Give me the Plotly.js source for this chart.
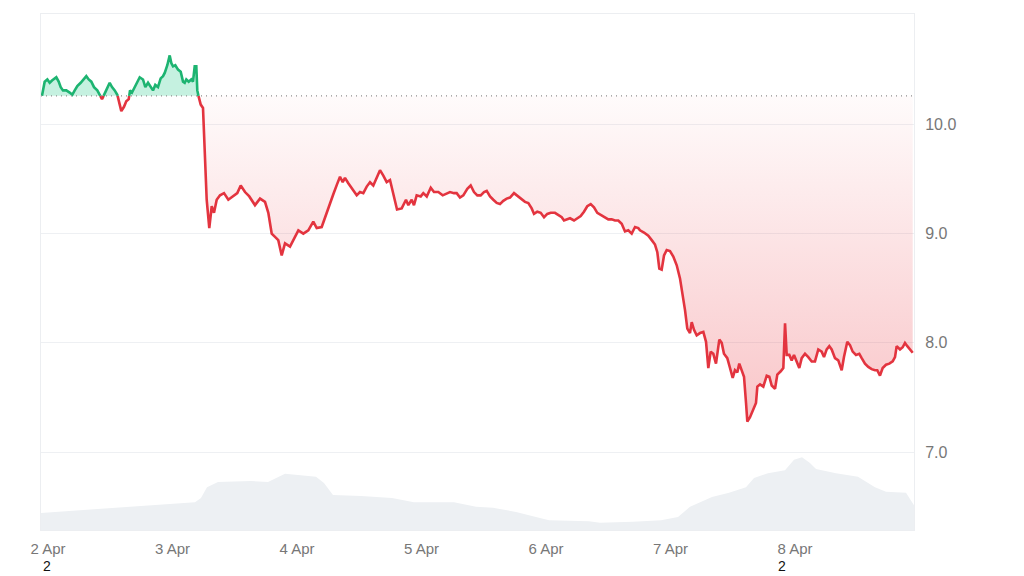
<!DOCTYPE html>
<html><head><meta charset="utf-8">
<script src="https://cdn.plot.ly/plotly-3.0.1.min.js"></script>
<style>html,body{margin:0;padding:0;background:#fff}#chart{width:1024px;height:576px}</style>
</head><body><div id="chart"></div>
<script>
// hours since 2 Apr 00:00 (UTC) for each price reading
const hours = [-1.16,-0.64,-0.13,0.33,0.77,1.60,2.06,2.45,2.89,3.53,4.18,4.68,5.15,5.65,6.30,6.94,7.38,7.85,8.35,8.87,9.50,9.97,10.41,10.93,11.43,11.89,12.34,12.86,13.36,13.82,14.13,14.65,15.09,15.56,15.81,16.19,16.71,17.21,17.68,18.31,18.76,19.28,19.80,20.24,20.68,21.20,21.72,22.17,22.50,23.00,23.46,23.77,24.10,24.54,25.06,25.58,26.03,26.35,26.66,27.12,27.62,27.95,28.28,28.59,28.78,29.05,29.44,29.88,30.27,30.59,31.09,31.56,32.00,32.52,33.16,33.93,34.76,35.72,36.49,37.15,37.98,38.80,39.90,40.87,41.83,42.47,43.12,43.76,44.39,45.05,45.69,46.65,47.29,48.26,49.22,50.18,51.14,51.80,52.76,53.40,54.36,55.00,55.71,56.29,56.81,57.25,57.89,58.85,59.51,60.14,60.78,61.44,62.07,62.71,63.36,64.00,64.64,65.29,65.93,66.56,67.28,68.18,69.01,69.46,70.11,70.55,71.07,71.85,72.35,73.01,73.78,74.41,75.24,76.09,76.86,77.49,78.26,78.78,79.42,80.06,80.83,81.48,82.12,82.76,83.41,84.05,84.57,85.21,85.84,86.50,87.13,87.77,88.42,89.06,89.83,90.66,91.32,91.95,92.59,93.24,93.69,94.32,94.98,95.62,96.25,96.91,97.73,98.37,99.03,99.47,99.99,100.63,101.40,102.03,102.69,103.32,103.96,104.62,105.25,105.89,106.54,107.37,108.01,108.66,109.30,109.94,110.59,111.23,111.86,112.52,113.16,113.79,114.12,114.89,115.72,116.38,117.01,117.46,117.84,118.30,118.75,119.27,119.90,120.54,121.20,121.83,122.35,122.80,123.24,123.76,124.09,124.53,125.05,125.69,126.33,126.85,127.29,127.75,128.25,128.77,129.41,129.87,130.31,130.95,131.47,131.99,132.43,132.88,133.26,133.73,134.17,134.56,134.81,135.33,135.97,136.48,136.74,137.26,137.89,138.55,139.05,139.51,140.15,140.59,141.25,141.75,142.08,142.40,142.90,143.36,143.81,144.33,144.83,145.29,145.93,146.56,147.22,147.85,148.49,149.14,149.59,150.11,150.61,151.07,151.71,152.34,153.00,153.44,154.08,154.60,155.12,155.76,156.39,156.86,157.49,158.13,158.78,159.42,159.86,160.38,160.90,161.54,162.18,162.83,163.28,163.60,164.24,164.76,165.20,165.65,166.17,166.69];
const prices = [10.26,10.39,10.41,10.38,10.40,10.43,10.39,10.34,10.31,10.31,10.29,10.27,10.31,10.35,10.38,10.41,10.44,10.41,10.39,10.34,10.31,10.27,10.23,10.28,10.34,10.38,10.34,10.31,10.27,10.19,10.12,10.16,10.21,10.23,10.31,10.29,10.34,10.39,10.43,10.41,10.34,10.38,10.34,10.31,10.36,10.34,10.42,10.44,10.47,10.54,10.63,10.56,10.53,10.54,10.50,10.48,10.39,10.38,10.41,10.39,10.41,10.39,10.53,10.53,10.31,10.25,10.18,10.15,9.61,9.31,9.05,9.25,9.19,9.31,9.35,9.37,9.31,9.34,9.37,9.44,9.38,9.34,9.26,9.32,9.29,9.19,9.00,8.97,8.94,8.80,8.91,8.88,8.94,9.03,9.00,9.03,9.11,9.05,9.06,9.15,9.29,9.36,9.45,9.52,9.47,9.51,9.46,9.40,9.35,9.38,9.37,9.43,9.47,9.44,9.51,9.58,9.53,9.47,9.49,9.37,9.22,9.23,9.31,9.26,9.31,9.26,9.35,9.34,9.37,9.34,9.42,9.38,9.38,9.35,9.37,9.38,9.37,9.37,9.33,9.35,9.41,9.44,9.38,9.35,9.35,9.38,9.39,9.34,9.31,9.28,9.27,9.30,9.32,9.33,9.37,9.34,9.31,9.29,9.28,9.23,9.18,9.20,9.19,9.15,9.18,9.19,9.19,9.17,9.15,9.12,9.13,9.14,9.12,9.14,9.16,9.20,9.25,9.27,9.24,9.19,9.17,9.15,9.13,9.13,9.12,9.12,9.09,9.02,9.03,9.00,9.06,9.05,9.03,9.01,8.98,8.94,8.90,8.83,8.68,8.67,8.80,8.85,8.84,8.79,8.71,8.59,8.45,8.30,8.13,8.09,8.19,8.12,8.07,8.09,8.10,8.01,7.77,7.92,7.90,7.81,8.03,8.00,7.90,7.86,7.77,7.68,7.75,7.73,7.81,7.75,7.69,7.45,7.28,7.32,7.39,7.45,7.60,7.62,7.60,7.70,7.69,7.61,7.58,7.71,7.74,7.77,8.18,7.89,7.89,7.84,7.89,7.83,7.77,7.86,7.90,7.87,7.83,7.83,7.94,7.92,7.87,7.94,7.97,7.94,7.86,7.84,7.75,7.87,8.01,7.98,7.92,7.89,7.90,7.86,7.81,7.78,7.76,7.75,7.75,7.70,7.77,7.80,7.81,7.83,7.87,7.97,7.94,7.96,8.00,7.97,7.94,7.91];
// trading volume (relative units) with its own time readings
const volHours = [-1.35,4.63,10.99,16.39,24.10,28.34,29.49,30.65,32.77,39.13,42.41,45.69,51.66,53.20,54.94,60.34,66.31,70.55,78.26,82.51,85.78,90.22,93.30,96.58,104.29,106.41,112.77,118.17,121.45,123.76,128.00,131.28,134.55,136.10,138.79,142.07,143.81,145.35,146.89,148.05,151.90,156.14,159.42,161.54,165.40,166.55,166.94];
const volumes = [3.3,3.7,4.1,4.5,5.0,5.4,6.2,8.3,9.3,9.5,9.3,10.9,10.3,9.1,6.8,6.6,6.2,5.4,5.4,4.5,4.3,3.5,2.7,1.9,1.7,1.4,1.6,1.9,2.5,4.5,6.4,7.2,8.3,10.1,11.0,11.6,13.6,14.1,13.0,11.8,11.0,10.3,8.3,7.4,7.2,5.2,4.8];
const dayTicks = ['2025-04-02','2025-04-03','2025-04-04','2025-04-05','2025-04-06','2025-04-07','2025-04-08'];
const dayLabels = ['2 Apr','3 Apr','4 Apr','5 Apr','6 Apr','7 Apr','8 Apr'];
const priceTicks = [7,8,9,10];
const priceLabels = ['7.0','8.0','9.0','10.0'];
const markLabels = ['2','2'];
const markHours = [-0.25,141.5];

const ORIGIN = Date.UTC(2025,3,2);
function toTime(h){ return new Date(ORIGIN + h*3600000).toISOString().replace('T',' ').slice(0,19); }
const base = prices[0];

// split the series at the baseline (crossings found on the segments)
const X=[], fillUp=[], fillDn=[], lineUp=[], lineDn=[];
for (let i=0;i<prices.length;i++){
  const p = prices[i];
  X.push(toTime(hours[i]));
  fillUp.push(Math.max(p,base)); fillDn.push(Math.min(p,base));
  lineUp.push(p>=base ? p : null); lineDn.push(p<base ? p : null);
  if (i<prices.length-1){
    const q = prices[i+1];
    if ((p>=base)!==(q>=base)){
      const hc = hours[i] + (base-p)/(q-p)*(hours[i+1]-hours[i]);
      X.push(toTime(hc)); fillUp.push(base); fillDn.push(base); lineUp.push(base); lineDn.push(base);
    }
  }
}
const first = X[0], last = X[X.length-1];

const traces = [
  {x: volHours.map(toTime), y: volumes, yaxis:'y2', type:'scatter', mode:'lines', line:{width:0,color:'#edf0f3'}, fill:'tozeroy', fillcolor:'#edf0f3', hoverinfo:'skip'},
  {x:[first,last], y:[base,base], type:'scatter', mode:'lines', line:{width:0}, hoverinfo:'skip'},
  {x:X, y:fillDn, type:'scatter', mode:'lines', line:{width:0}, fill:'tonexty',
   fillgradient:{type:'vertical', colorscale:[[0,'rgba(234,57,67,0.29)'],[1,'rgba(234,57,67,0.02)']]}, hoverinfo:'skip'},
  {x:[first,last], y:[base,base], type:'scatter', mode:'lines', line:{width:0}, hoverinfo:'skip'},
  {x:X, y:fillUp, type:'scatter', mode:'lines', line:{width:0}, fill:'tonexty', fillcolor:'rgba(22,199,132,0.25)', hoverinfo:'skip'},
  {x:X, y:lineDn, type:'scatter', mode:'lines', line:{color:'#e3343f', width:2.6}, connectgaps:false},
  {x:X, y:lineUp, type:'scatter', mode:'lines', line:{color:'#1db471', width:2.6}, connectgaps:false}
];

const layout = {
  width:1024, height:576,
  margin:{l:41, r:110, t:14, b:46, pad:0},
  paper_bgcolor:'#ffffff', plot_bgcolor:'#ffffff', showlegend:false, hovermode:false,
  font:{family:'Liberation Sans, Arial, sans-serif', color:'#7a7a7a'},
  xaxis:{type:'date', range:[toTime(-1.35), toTime(166.94)], tickmode:'array', tickvals:dayTicks, ticktext:dayLabels,
    showgrid:false, zeroline:false, showline:true, mirror:true, linecolor:'#eceef1', linewidth:1,
    ticks:'', tickfont:{size:15, color:'#777777'}, ticklabelstandoff:5, fixedrange:true},
  yaxis:{side:'right', range:[6.288, 11.009], tickmode:'array', tickvals:priceTicks, ticktext:priceLabels,
    showgrid:true, gridcolor:'#eef0f3', gridwidth:1, zeroline:false, showline:true, mirror:true, linecolor:'#eceef1',
    ticks:'', tickfont:{size:16, color:'#777777'}, ticklabelstandoff:7, fixedrange:true},
  yaxis2:{overlaying:'y', side:'left', range:[0,100], visible:false, fixedrange:true},
  shapes:[{type:'line', xref:'paper', x0:0, x1:1, yref:'y', y0:base, y1:base, layer:'above',
    line:{color:'#8f8f8f', width:1.2, dash:'1px,4px'}}],
  annotations: markLabels.map((t,i)=>({text:t, x:toTime(markHours[i]), xref:'x', y:-0.0888, yref:'paper',
    showarrow:false, font:{size:14, color:'#111111', family:'Liberation Sans, Arial, sans-serif'}, xanchor:'center', yanchor:'bottom'}))
};

Plotly.newPlot('chart', traces, layout, {displayModeBar:false, staticPlot:true});
</script>
</body></html>
